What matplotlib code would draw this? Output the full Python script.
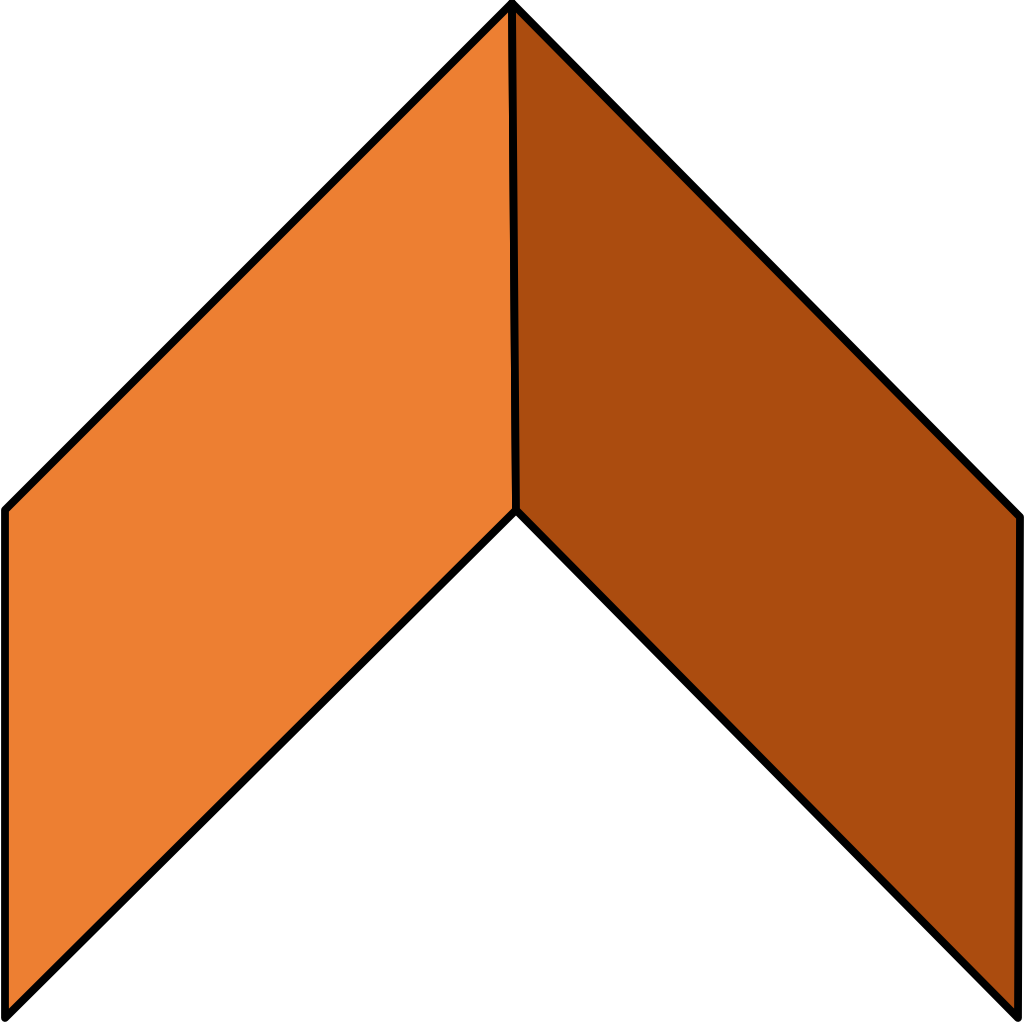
import matplotlib
matplotlib.use('Agg')
import matplotlib.pyplot as plt
from matplotlib.patches import Polygon

# outline vertices in image pixel units (y grows downward)
left_x = [5, 512, 516, 5]
left_y = [510, 3, 510, 1018]
right_x = [512, 1020, 1018, 516]
right_y = [3, 517, 1018, 510]

left_color = '#ED7F32'
right_color = '#AB4C0F'

fig = plt.figure(figsize=(10.24, 10.24), dpi=100)
ax = fig.add_axes([0, 0, 1, 1])
ax.set_xlim(0, 1024)
ax.set_ylim(1024, 0)
ax.axis('off')

for xs, ys, color in [(left_x, left_y, left_color), (right_x, right_y, right_color)]:
    poly = Polygon(list(zip(xs, ys)), closed=True, facecolor=color,
                   edgecolor='black', linewidth=5.6, joinstyle='round')
    ax.add_patch(poly)

fig.savefig('out.png', dpi=100, facecolor='white')
